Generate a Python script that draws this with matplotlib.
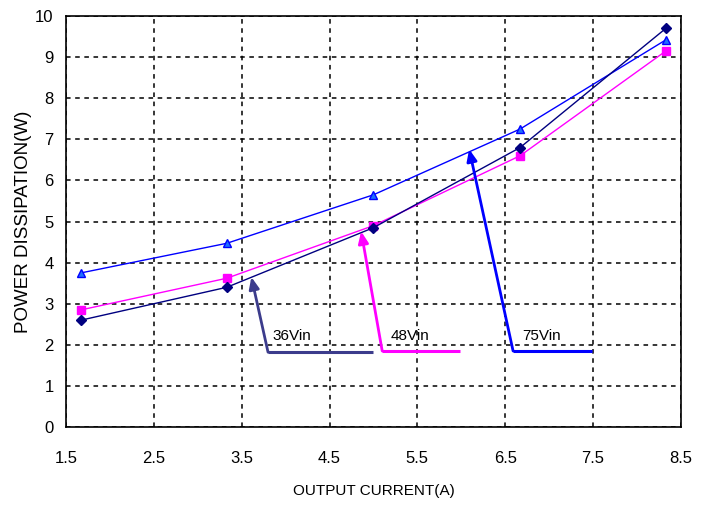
import numpy as np
import matplotlib as mpl
mpl.use("Agg")
import matplotlib.pyplot as plt

plt.rcParams['font.family'] = ['Liberation Sans Narrow', 'Liberation Sans', 'DejaVu Sans']

# data
current = [1.67, 3.33, 5.0, 6.67, 8.33]
p36 = [2.6, 3.4, 4.85, 6.8, 9.7]
p48 = [2.85, 3.62, 4.9, 6.6, 9.15]
p75 = [3.75, 4.47, 5.65, 7.25, 9.42]

xticks = [1.5, 2.5, 3.5, 4.5, 5.5, 6.5, 7.5, 8.5]
yticks = list(range(0, 11))

fig = plt.figure(figsize=(7.07, 5.09), dpi=100)
ax = fig.add_axes([0.0934, 0.161, 0.8696, 0.8076])

ax.plot(current, p75, color="#0000ff", lw=1.0, marker="^", ms=6,
        mfc="#1f6fff", mec="#0000ff", zorder=3)
ax.plot(current, p48, color="#ff00ff", lw=1.0, marker="s", ms=6,
        mfc="#ff00ff", mec="#ff00ff", zorder=3)
ax.plot(current, p36, color="#000080", lw=1.0, marker="D", ms=5,
        mfc="#000080", mec="#000080", zorder=4)

# callouts: (label, text pos, elbow, end of horizontal line, arrow tip, colour)
callouts = [
    ("36Vin", (3.85, 2.05), (3.80, 1.82), (4.99, 1.82), (3.61, 3.65), "#3c3c8c"),
    ("48Vin", (5.20, 2.05), (5.10, 1.85), (5.98, 1.85), (4.86, 4.76), "#ff00ff"),
    ("75Vin", (6.69, 2.05), (6.59, 1.85), (7.49, 1.85), (6.09, 6.76), "#0000ff"),
]
for label, tpos, elbow, end, tip, col in callouts:
    ax.plot([elbow[0], end[0]], [elbow[1], end[1]], color=col, lw=2.2,
            solid_capstyle="butt", zorder=5)
    ax.annotate("", xy=tip, xytext=elbow,
                arrowprops=dict(arrowstyle="-|>,head_length=0.7,head_width=0.3",
                                color=col, lw=2.0, shrinkA=0, shrinkB=0),
                zorder=5)
    ax.text(tpos[0], tpos[1], label, fontsize=11, color="black",
            ha="left", va="bottom", zorder=6)

ax.set_xlim(1.5, 8.5)
ax.set_ylim(0, 10)
ax.set_xticks(xticks)
ax.set_xticklabels([f"{t:.1f}" for t in xticks])
ax.set_yticks(yticks)
ax.tick_params(axis="both", length=0, labelsize=12)
ax.tick_params(axis="x", pad=17)
ax.tick_params(axis="y", pad=9)
ax.grid(True, color="black", linestyle=(0, (3, 3)), lw=1.1)
ax.set_axisbelow(True)
for s in ax.spines.values():
    s.set_color("black")
    s.set_linewidth(1.2)

ax.set_xlabel("OUTPUT CURRENT(A)", fontsize=11, labelpad=13)
ax.set_ylabel("POWER DISSIPATION(W)", fontsize=13.5, labelpad=2)

fig.savefig("out.png", dpi=100)
